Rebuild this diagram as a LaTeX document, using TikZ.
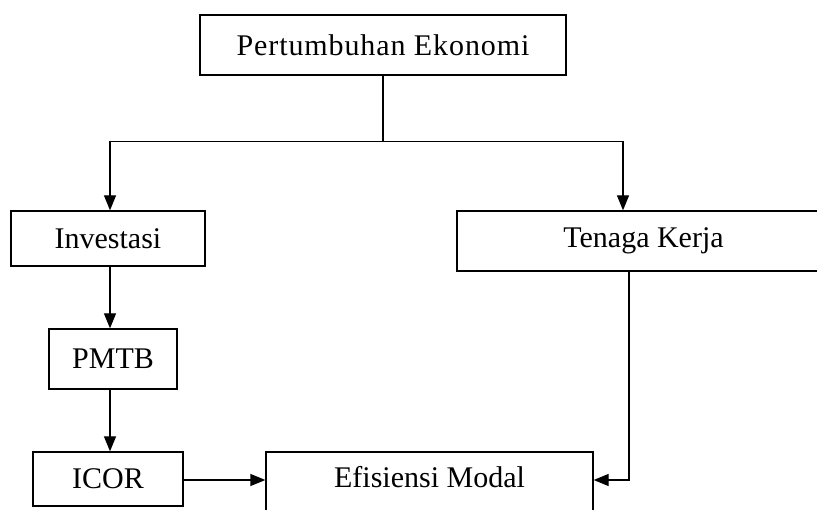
\documentclass[tikz,border=0pt]{standalone}
\usepackage{fontspec}
\setmainfont{Liberation Serif}
\usetikzlibrary{arrows.meta}
\begin{document}
\begin{tikzpicture}[x=1pt,y=-1pt,
  box/.style={draw, line width=1.3pt, inner sep=0pt, font=\fontsize{30}{32}\selectfont},
  conn/.style={line width=1.3pt},
  arr/.style={conn, -{Triangle[length=15pt,width=12pt]}}]
\useasboundingbox (0,0) rectangle (817,510);
\clip (0,0) rectangle (817,510);
\node[box, minimum width=366pt, minimum height=60pt] (pe) at (383,45) {\addfontfeatures{LetterSpace=3}Pertumbuhan Ekonomi};
\node[box, minimum width=194pt, minimum height=55pt] (inv) at (108,238.5) {Investasi};
\node[box, minimum width=373pt, minimum height=60pt] (tk) at (643.5,241) {Tenaga Kerja\hspace{42pt}};
\node[box, minimum width=128pt, minimum height=60pt] (pmtb) at (113,359) {PMTB};
\node[box, minimum width=150pt, minimum height=54pt] (icor) at (108,479) {ICOR};
\node[box, minimum width=327pt, text height=36pt, text depth=70pt, anchor=base] (em) at (429.5,488) {Efisiensi Modal};
\draw[conn] (pe.south) -- ++(0,66) coordinate (split);
\draw[arr] (split) -| ([xshift=2pt]inv.north);
\draw[arr] (split) -| ([xshift=-20.5pt]tk.north);
\draw[arr] ([xshift=2pt]inv.south) -- ([xshift=-3pt]pmtb.north);
\draw[arr] ([xshift=-3pt]pmtb.south) -- ([xshift=2pt]icor.north);
\draw[arr] ([yshift=-1pt]icor.east) -- ([yshift=-1pt]icor.east -| em.west);
\draw[arr] ([xshift=-14.5pt]tk.south) |- ([yshift=8pt]em.base east);
\end{tikzpicture}
\end{document}
